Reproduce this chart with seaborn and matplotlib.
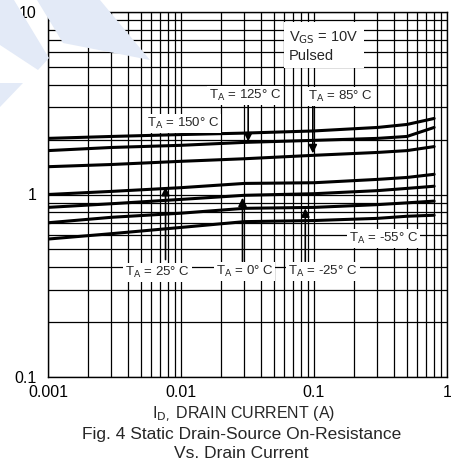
import numpy as np
import pandas as pd
import matplotlib
matplotlib.use("Agg")
import matplotlib.pyplot as plt
from matplotlib.patches import Polygon
from matplotlib.ticker import FixedLocator, LogLocator, NullFormatter
import seaborn as sns

# ---------------- data ----------------
current = [0.001, 0.003, 0.01, 0.03, 0.1, 0.3, 0.5, 0.8]
r_150 = [2.03, 2.08, 2.13, 2.17, 2.23, 2.33, 2.42, 2.61]
r_125 = [1.74, 1.81, 1.86, 1.93, 1.98, 2.03, 2.08, 2.33]
r_85 = [1.42, 1.46, 1.52, 1.57, 1.64, 1.70, 1.74, 1.83]
r_25 = [1.00, 1.04, 1.09, 1.15, 1.16, 1.21, 1.24, 1.29]
r_0 = [0.85, 0.89, 0.94, 0.99, 1.01, 1.05, 1.08, 1.11]
r_m25 = [0.70, 0.75, 0.79, 0.84, 0.85, 0.88, 0.90, 0.92]
r_m55 = [0.57, 0.61, 0.66, 0.71, 0.72, 0.74, 0.76, 0.77]
temps = ["150", "125", "85", "25", "0", "-25", "-55"]
series = [r_150, r_125, r_85, r_25, r_0, r_m25, r_m55]

x_ticks = [0.001, 0.01, 0.1, 1]
x_ticklabels = ["0.001", "0.01", "0.1", "1"]
y_ticks = [0.1, 1, 10]
y_ticklabels = ["0.1", "1", "10"]

rows = []
for t, s in zip(temps, series):
    for c, r in zip(current, s):
        rows.append({"current": c, "rds": r, "temp": t})
df = pd.DataFrame(rows)

# ---------------- figure ----------------
sns.set_style("white")
plt.rcParams["font.family"] = ["Liberation Sans", "DejaVu Sans"]

W, H = 452, 463
fig = plt.figure(figsize=(W / 100, H / 100), dpi=100)

# watermark (light blue shapes), figure pixel coords (y downward)
wm_color = "#e3eaf7"
def px(pts):
    return [(x / W, 1 - y / H) for x, y in pts]
for pts in [
    [(0, 0), (14, 0), (49, 58), (38, 70), (0, 45)],
    [(37, 0), (100, 0), (150, 60), (63, 43)],
    [(0, 83), (23, 83), (0, 107)],
]:
    fig.patches.append(Polygon(px(pts), closed=True, transform=fig.transFigure,
                               facecolor=wm_color, edgecolor="none", zorder=0))

ax = fig.add_axes([48 / W, 1 - 377 / H, (447 - 48) / W, (377 - 12) / H])
ax.set_facecolor("white")

sns.lineplot(data=df, x="current", y="rds", hue="temp", hue_order=temps,
             palette=["black"] * len(temps), legend=False, linewidth=2.2,
             ax=ax, zorder=3)

ax.set_xscale("log")
ax.set_yscale("log")
ax.set_xlim(0.001, 1)
ax.set_ylim(0.1, 10)

ax.xaxis.set_major_locator(FixedLocator(x_ticks))
ax.set_xticklabels(x_ticklabels)
ax.yaxis.set_major_locator(FixedLocator(y_ticks))
ax.set_yticklabels(y_ticklabels)
ax.xaxis.set_minor_locator(LogLocator(base=10, subs=np.arange(2, 10)))
ax.yaxis.set_minor_locator(LogLocator(base=10, subs=np.arange(2, 10)))
ax.xaxis.set_minor_formatter(NullFormatter())
ax.yaxis.set_minor_formatter(NullFormatter())
ax.tick_params(which="both", length=0, labelsize=11.5, colors="black")
ax.tick_params(axis="y", pad=8)
ax.tick_params(axis="x", pad=6)

ax.grid(True, which="both", color="black", linewidth=0.9, zorder=1)
ax.set_axisbelow(True)
for sp in ax.spines.values():
    sp.set_color("black")
    sp.set_linewidth(1.0)

ax.set_xlabel("I$_{\\mathrm{D,}}$ DRAIN CURRENT (A)", fontsize=11.5)
ax.xaxis.label.set_va("center")
ax.xaxis.set_label_coords(0.49, (377 - 414) / (377 - 12))
ax.set_ylabel("")

fig.text(0.534, 1 - 434 / H, "Fig. 4 Static Drain-Source On-Resistance",
         ha="center", va="center", fontsize=12.5)
fig.text(0.534, 1 - 453 / H, "Vs. Drain Current",
         ha="center", va="center", fontsize=12.5)

# ---------------- annotations ----------------
box = dict(facecolor="white", edgecolor="none", pad=1.5)
lbl_kw = dict(fontsize=9.5, ha="center", va="center", bbox=box, zorder=5)

ax.text(0.0103, 2.45, "T$_\\mathrm{A}$ = 150° C", **lbl_kw)
ax.text(0.0304, 3.49, "T$_\\mathrm{A}$ = 125° C", **lbl_kw)
ax.text(0.159, 3.45, "T$_\\mathrm{A}$ = 85° C", **lbl_kw)
ax.text(0.00667, 0.374, "T$_\\mathrm{A}$ = 25° C", **lbl_kw)
ax.text(0.030, 0.378, "T$_\\mathrm{A}$ = 0° C", **lbl_kw)
ax.text(0.1167, 0.378, "T$_\\mathrm{A}$ = -25° C", **lbl_kw)
ax.text(0.334, 0.574, "T$_\\mathrm{A}$ = -55° C", **lbl_kw)

ax.text(0.065, 6.5, "V$_\\mathrm{GS}$ = 10V\nPulsed", fontsize=10.5, ha="left",
        va="center", linespacing=1.2, zorder=5,
        bbox=dict(facecolor="white", edgecolor="none", pad=4))

arrow_kw = dict(arrowstyle="-|>,head_length=0.5,head_width=0.25", color="black",
                lw=1.2, shrinkA=0, shrinkB=0)
arrows = [
    ((0.032, 3.11), (0.032, 1.95)),
    ((0.098, 3.11), (0.098, 1.68)),
    ((0.00765, 0.44), (0.00765, 1.10)),
    ((0.029, 0.43), (0.029, 0.96)),
    ((0.086, 0.43), (0.086, 0.84)),
]
for start, end in arrows:
    ax.annotate("", xy=end, xytext=start, arrowprops=arrow_kw, zorder=4)

fig.savefig("out.png", dpi=100)
